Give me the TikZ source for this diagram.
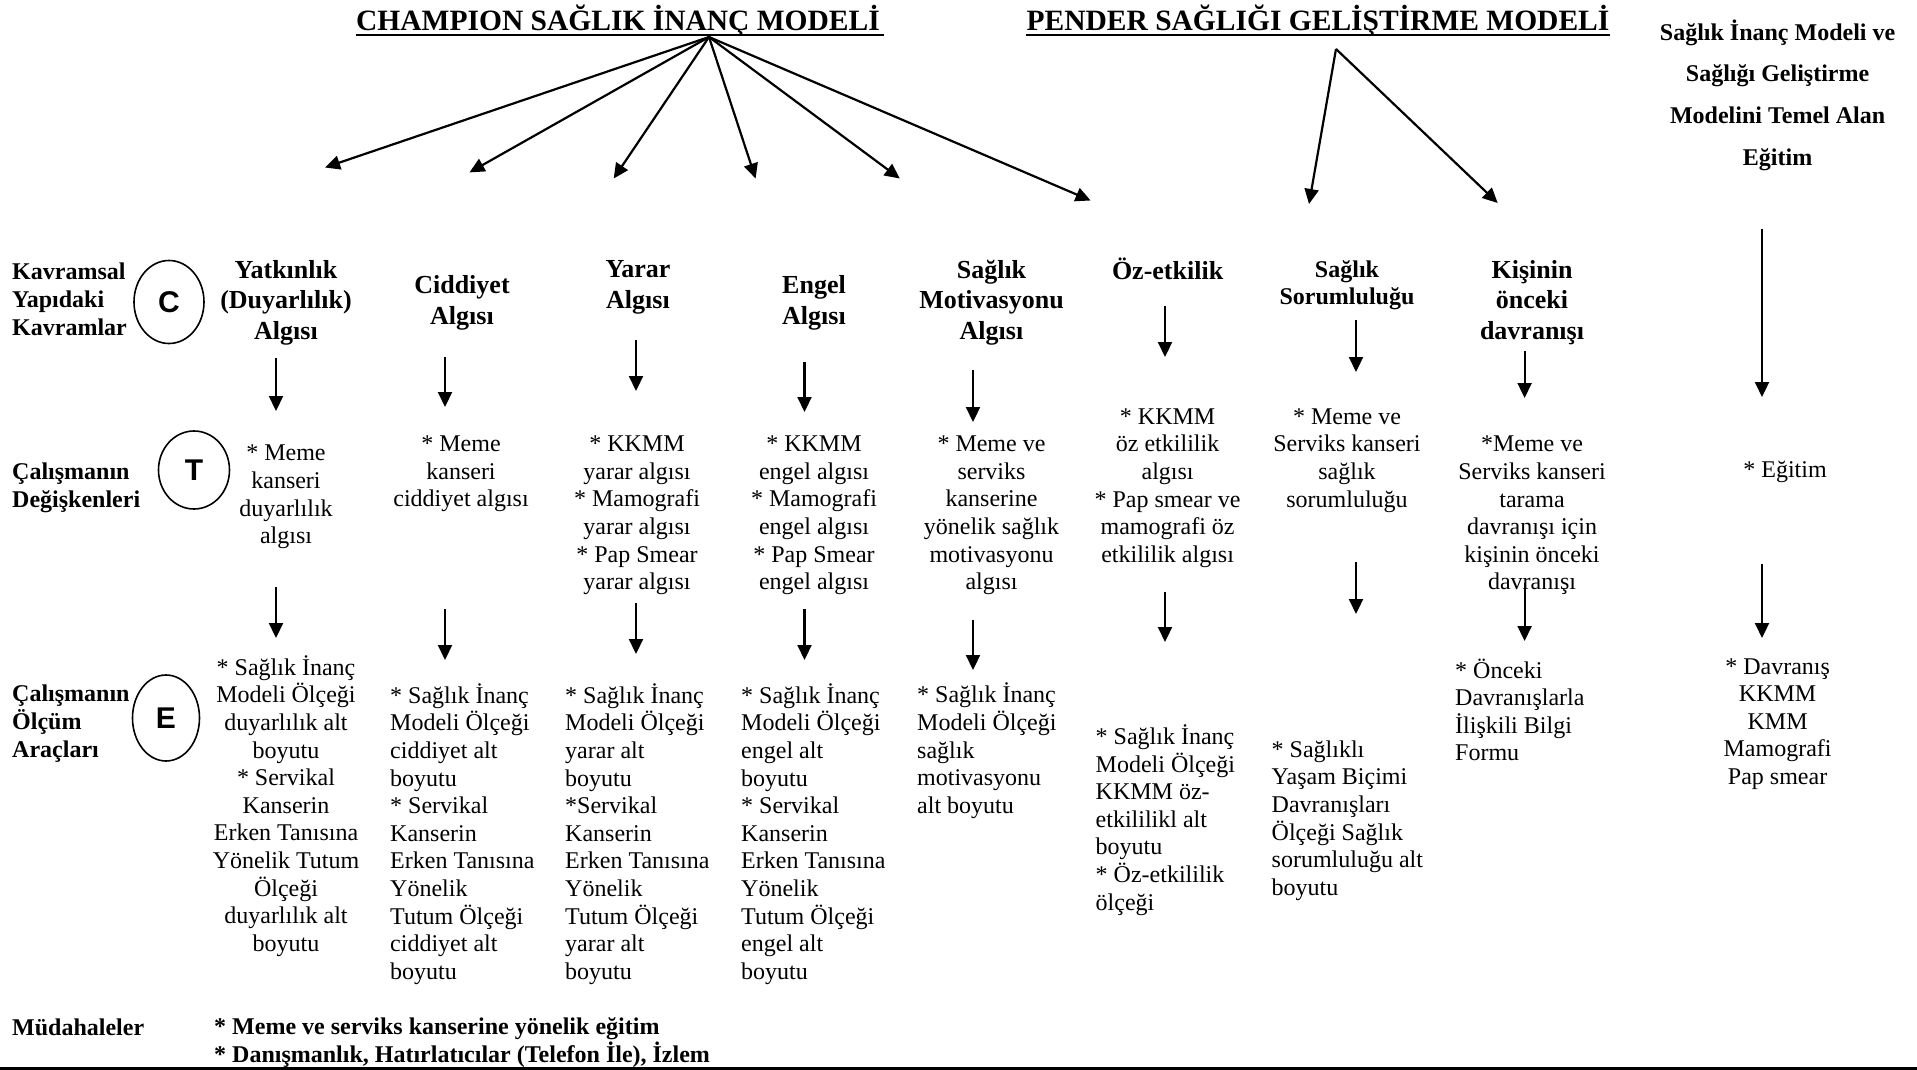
\documentclass[tikz,border=0pt]{standalone}
\usepackage{fontspec}
\setmainfont{Liberation Serif}
\newfontfamily\lettfont{Liberation Sans}
\usepackage{tikz}
\usetikzlibrary{arrows.meta,shapes.geometric}

\begin{document}
\begin{tikzpicture}[x=1pt, y=-1pt,
    arr/.style={-{Triangle[length=15pt,width=14pt]}, line width=2.2pt},
    ttl/.style={font=\fontsize{29.5}{30}\selectfont\bfseries, anchor=base, inner sep=0pt},
    head/.style={font=\fontsize{26}{30.5}\selectfont\bfseries, align=center, inner sep=0pt},
    txt/.style={font=\fontsize{24}{27.6}\selectfont, align=center, inner sep=0pt},
    meas/.style={font=\fontsize{24}{27.6}\selectfont, align=left, anchor=west, inner sep=0pt},
    side/.style={font=\fontsize{24}{28}\selectfont\bfseries, align=left, anchor=west, inner sep=0pt},
    ring/.style={ellipse, draw, line width=1.6pt, inner sep=0pt, font=\lettfont\bfseries\fontsize{30}{30}\selectfont}]

    \useasboundingbox (0,0) rectangle (1917,1070);

    % model titles
    \node[ttl] (champ) at (618,31) {CHAMPION SAĞLIK İNANÇ MODELİ};
    \node[ttl] (pender) at (1318,31) {PENDER SAĞLIĞI GELİŞTİRME MODELİ};
    \draw[line width=2.5pt] ([yshift=-4pt]champ.base west) -- ([yshift=-4pt,xshift=4pt]champ.base east);
    \draw[line width=2.5pt] ([yshift=-4pt]pender.base west) -- ([yshift=-4pt]pender.base east);
    \node[head, font=\fontsize{24}{41.6}\selectfont\bfseries] (base) at (1777.6,95)
        {Sağlık İnanç Modeli ve\\Sağlığı Geliştirme\\Modelini Temel Alan\\Eğitim};

    % fan of arrows
    \coordinate (chs) at (709,37);
    \foreach \x/\y [count=\i] in {325/167.5, 469.5/172.4, 613.7/178.5, 755.6/178.5, 899.8/178.5, 1090.6/200.5}
        {\coordinate (ch\i) at (\x,\y); \draw[arr] (chs) -- (ch\i);}
    \coordinate (pds) at (1336,49);
    \foreach \x/\y [count=\i] in {1309/204, 1497.7/203}
        {\coordinate (pd\i) at (\x,\y); \draw[arr] (pds) -- (pd\i);}

    % row labels
    \node[side] (lk) at (12,299) {Kavramsal\\Yapıdaki\\Kavramlar};
    \node[side] (lt) at (12,488) {Çalışmanın\\Değişkenleri};
    \node[side] (le) at (12,724) {Çalışmanın\\Ölçüm\\Araçları};
    \node[side] (lm) at (12,1027) {Müdahaleler};
    \node[side] (mud) at (214,1042.5) {* Meme ve serviks kanserine yönelik eğitim\\* Danışmanlık, Hatırlatıcılar (Telefon İle), İzlem};
    \node[ring, minimum width=70pt, minimum height=83pt] (cc) at (169,302) {C};
    \node[ring, minimum width=71pt, minimum height=78pt] (ct) at (194,470) {T};
    \node[ring, minimum width=67pt, minimum height=86pt] (ce) at (166,718) {E};

    % Yatkınlık
    \node[head] (hd1) at (286,302.5) {Yatkınlık\\(Duyarlılık)\\Algısı};
    \node[txt] (vr1) at (286,497) {* Meme\\kanseri\\duyarlılık\\algısı};
    \node[txt] (ms1) at (286,806) {* Sağlık İnanç\\Modeli Ölçeği\\duyarlılık alt\\boyutu\\* Servikal\\Kanserin\\Erken Tanısına\\Yönelik Tutum\\Ölçeği\\duyarlılık alt\\boyutu};

    % Ciddiyet
    \node[head] (hd2) at (462,302.8) {Ciddiyet\\Algısı};
    \node[txt] (vr2) at (461,474) {* Meme\\kanseri\\ciddiyet algısı};
    \node[meas] (ms2) at (390,834) {* Sağlık İnanç\\Modeli Ölçeği\\ciddiyet alt\\boyutu\\* Servikal\\Kanserin\\Erken Tanısına\\Yönelik\\Tutum Ölçeği\\ciddiyet alt\\boyutu};

    % Yarar
    \node[head] (hd3) at (638,287.5) {Yarar\\Algısı};
    \node[txt] (vr3) at (637,515.5) {* KKMM\\yarar algısı\\* Mamografi\\yarar algısı\\* Pap Smear\\yarar algısı};
    \node[meas] (ms3) at (565,834) {* Sağlık İnanç\\Modeli Ölçeği\\yarar alt\\boyutu\\*Servikal\\Kanserin\\Erken Tanısına\\Yönelik\\Tutum Ölçeği\\yarar alt\\boyutu};

    % Engel
    \node[head] (hd4) at (814,302.8) {Engel\\Algısı};
    \node[txt] (vr4) at (814,515.5) {* KKMM\\engel algısı\\* Mamografi\\engel algısı\\* Pap Smear\\engel algısı};
    \node[meas] (ms4) at (741,834) {* Sağlık İnanç\\Modeli Ölçeği\\engel alt\\boyutu\\* Servikal\\Kanserin\\Erken Tanısına\\Yönelik\\Tutum Ölçeği\\engel alt\\boyutu};

    % Sağlık motivasyonu
    \node[head] (hd5) at (991.5,302.5) {Sağlık\\Motivasyonu\\Algısı};
    \node[txt] (vr5) at (991.5,515.5) {* Meme ve\\serviks\\kanserine\\yönelik sağlık\\motivasyonu\\algısı};
    \node[meas] (ms5) at (917,750.8) {* Sağlık İnanç\\Modeli Ölçeği\\sağlık\\motivasyonu\\alt boyutu};

    % Öz-etkilik
    \node[head] (hd6) at (1167.6,269) {Öz-etkilik};
    \node[txt] (vr6) at (1167.6,488) {* KKMM\\öz etkililik\\algısı\\* Pap smear ve\\mamografi öz\\etkililik algısı};
    \node[meas] (ms6) at (1095.5,820) {* Sağlık İnanç\\Modeli Ölçeği\\KKMM öz-\\etkililikl alt\\boyutu\\* Öz-etkililik\\ölçeği};

    % Sağlık sorumluluğu
    \node[head, font=\fontsize{24}{27}\selectfont\bfseries] (hd7) at (1347,285.5) {Sağlık\\Sorumluluğu};
    \node[txt] (vr7) at (1347,460.5) {* Meme ve\\Serviks kanseri\\sağlık\\sorumluluğu};
    \node[meas] (ms7) at (1271.5,820.5) {* Sağlıklı\\Yaşam Biçimi\\Davranışları\\Ölçeği Sağlık\\sorumluluğu alt\\boyutu};

    % Kişinin önceki davranışı
    \node[head] (hd8) at (1532,302.5) {Kişinin\\önceki\\davranışı};
    \node[txt] (vr8) at (1532,515.5) {*Meme ve\\Serviks kanseri\\tarama\\davranışı için\\kişinin önceki\\davranışı};
    \node[meas] (ms8) at (1455,709.8) {* Önceki\\Davranışlarla\\İlişkili Bilgi\\Formu};

    % eğitim
    \node[txt] (vr9) at (1785,472) {* Eğitim};
    \node[txt] (ms9) at (1777.6,724) {* Davranış\\KKMM\\KMM\\Mamografi\\Pap smear};

    % down arrows
    \foreach \n/\x/\ya/\yb in {a1/276/358/411, b1/276/587/638, a2/445/357/407, b2/445/609/660,
        a3/636/340/391, b3/636/603/654, a4/804.5/362/412, b4/804.5/609/660,
        a5/973/370/422, b5/973/620/670, a6/1165/306/357, b6/1165/592/642,
        a7/1356/320/372, b7/1356/562/614, a8/1524.6/351/398, b8/1524.6/583/641,
        a9/1762/228.6/397, b9/1762/563.6/638}
        {\coordinate (\n t) at (\x,\ya); \coordinate (\n b) at (\x,\yb); \draw[arr] (\n t) -- (\n b);}

    % bottom rule
    \coordinate (rl) at (0,1068);
    \coordinate (rr) at (1917,1068);
    \draw[line width=3pt] (rl) -- (rr);
\end{tikzpicture}
\end{document}
